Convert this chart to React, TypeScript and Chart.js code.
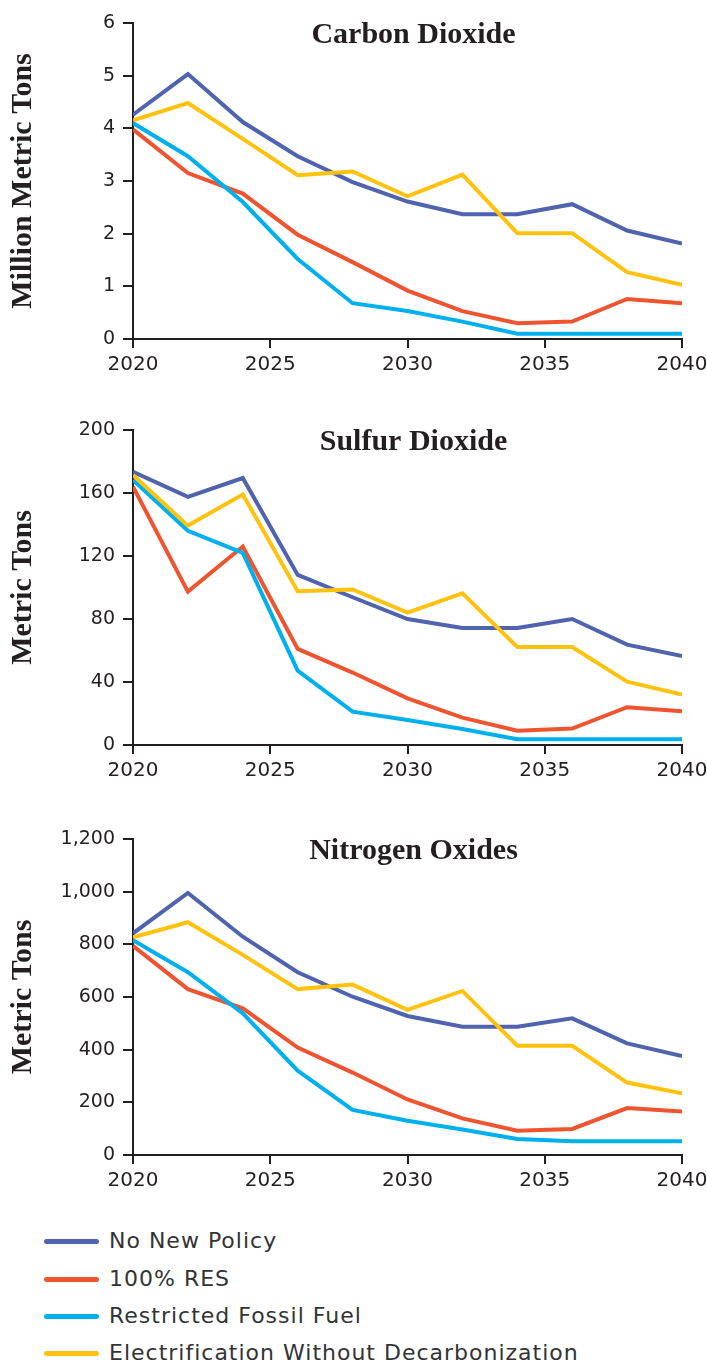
import React, { useEffect, useRef } from "react";
import { Chart, registerables } from "chart.js";

Chart.register(...registerables);

const years = [2020, 2022, 2024, 2026, 2028, 2030, 2032, 2034, 2036, 2038, 2040];
const seriesNames = ["No New Policy", "100% RES", "Restricted Fossil Fuel", "Electrification Without Decarbonization"];
const seriesColors = ["#4f63ae", "#ef5430", "#00b0ec", "#ffc20e"];

const co2NoNewPolicy = [4.26, 5.03, 4.12, 3.47, 2.98, 2.61, 2.37, 2.37, 2.56, 2.06, 1.81];
const co2Res100 = [3.98, 3.15, 2.76, 1.98, 1.46, 0.92, 0.53, 0.3, 0.33, 0.76, 0.68];
const co2Restricted = [4.1, 3.47, 2.6, 1.52, 0.68, 0.53, 0.33, 0.1, 0.1, 0.1, 0.1];
const co2Electrification = [4.15, 4.48, 3.8, 3.11, 3.18, 2.71, 3.12, 2.01, 2.01, 1.27, 1.03];

const so2NoNewPolicy = [173.5, 157.5, 169.5, 108, 93.8, 80, 74.3, 74.3, 80, 63.7, 56.5];
const so2Res100 = [164, 97.4, 126, 61, 46, 29.6, 17.4, 9.1, 10.4, 24, 21.4];
const so2Restricted = [168.3, 136, 122, 47.2, 21.2, 15.9, 10.2, 3.6, 3.6, 3.6, 3.6];
const so2Electrification = [171.4, 139.3, 159, 97.6, 98.8, 84, 96.3, 62.2, 62.2, 40.2, 32];

const noxNoNewPolicy = [842, 995, 829, 694, 601, 528, 487, 487, 519, 424, 376];
const noxRes100 = [794, 630, 557, 408, 313, 211, 139, 92, 99, 178, 165];
const noxRestricted = [816, 694, 538, 320, 171, 130, 97, 61, 52, 52, 52];
const noxElectrification = [827, 884, 760, 630, 647, 551, 623, 415, 415, 275, 234];

const xTicks = [2020, 2025, 2030, 2035, 2040];

type PanelDef = {
  title: string;
  yTitle: string;
  yMax: number;
  yStep: number;
  series: number[][];
  top: number;
  padTop: number;
  height: number;
};

const panels: PanelDef[] = [
  { title: "Carbon Dioxide", yTitle: "Million Metric Tons", yMax: 6, yStep: 1, series: [co2NoNewPolicy, co2Res100, co2Restricted, co2Electrification], top: 0, padTop: 23, height: 384 },
  { title: "Sulfur Dioxide", yTitle: "Metric Tons", yMax: 200, yStep: 40, series: [so2NoNewPolicy, so2Res100, so2Restricted, so2Electrification], top: 400, padTop: 30, height: 390 },
  { title: "Nitrogen Oxides", yTitle: "Metric Tons", yMax: 1200, yStep: 200, series: [noxNoNewPolicy, noxRes100, noxRestricted, noxElectrification], top: 800, padTop: 39, height: 400 },
];

const INK = "#231f20";
const SERIF = '"Liberation Serif", "Times New Roman", serif';
const SANS = '"DejaVu Sans", "Noto Sans", sans-serif';

function Panel({ def }: { def: PanelDef }) {
  const ref = useRef<HTMLCanvasElement | null>(null);
  useEffect(() => {
    if (!ref.current) return;
    const titlePlugin = {
      id: "panelTitle",
      afterDraw(chart: any) {
        const { ctx, chartArea } = chart;
        ctx.save();
        ctx.font = `bold 30px ${SERIF}`;
        ctx.fillStyle = INK;
        ctx.textAlign = "center";
        ctx.textBaseline = "alphabetic";
        ctx.fillText(def.title, (chartArea.left + chartArea.right) / 2 + 6, chartArea.top + 20);
        ctx.restore();
      },
    };
    const chart = new Chart(ref.current, {
      type: "line",
      data: {
        datasets: def.series.map((vals, i) => ({
          label: seriesNames[i],
          data: years.map((y, j) => ({ x: y, y: vals[j] })),
          borderColor: seriesColors[i],
          backgroundColor: seriesColors[i],
          borderWidth: 4,
          pointRadius: 0,
          tension: 0,
          fill: false,
          borderJoinStyle: "miter" as const,
          order: 3 - i,
        })),
      },
      options: {
        animation: false,
        responsive: false,
        maintainAspectRatio: false,
        events: [],
        layout: { padding: { top: def.padTop, left: 0, right: 25, bottom: 0 } },
        plugins: { legend: { display: false }, tooltip: { enabled: false }, title: { display: false } },
        scales: {
          x: {
            type: "linear",
            min: 2020,
            max: 2040,
            afterBuildTicks: (scale: any) => {
              scale.ticks = xTicks.map((v) => ({ value: v }));
            },
            ticks: {
              callback: (v: any) => String(v),
              color: INK,
              font: { family: SANS, size: 20 },
              padding: 5,
              maxRotation: 0,
              autoSkip: false,
            },
            grid: { drawOnChartArea: false, drawTicks: true, tickLength: 9, color: INK, lineWidth: 2 },
            border: { display: true, color: INK, width: 2 },
            afterFit: (scale: any) => {
              scale.height = 45;
              scale.paddingLeft = 0;
              scale.paddingRight = 0;
            },
          },
          y: {
            type: "linear",
            min: 0,
            max: def.yMax,
            ticks: {
              stepSize: def.yStep,
              callback: (v: any) => Number(v).toLocaleString("en-US"),
              color: INK,
              font: { family: SANS, size: 19 },
              padding: 8,
            },
            grid: { drawOnChartArea: false, drawTicks: true, tickLength: 10, color: INK, lineWidth: 2 },
            border: { display: true, color: INK, width: 2 },
            title: {
              display: true,
              text: def.yTitle,
              color: INK,
              font: { family: SERIF, size: 30, weight: "bold" },
              padding: { top: 5, bottom: 0 },
            },
            afterFit: (scale: any) => {
              scale.width = 133;
              scale.paddingTop = 0;
              scale.paddingBottom = 0;
            },
          },
        },
      },
      plugins: [titlePlugin],
    } as any);
    return () => chart.destroy();
  }, [def]);
  return (
    <canvas
      ref={ref}
      width={707}
      height={def.height}
      style={{ position: "absolute", left: 0, top: def.top, width: 707, height: def.height }}
    />
  );
}

const legendRows = [1241, 1279, 1316, 1353];

export default function App() {
  return (
    <div style={{ position: "absolute", left: 0, top: 0, width: 707, height: 1363, background: "#fff", overflow: "hidden" }}>
      {panels.map((p) => (
        <Panel key={p.title} def={p} />
      ))}
      {seriesNames.map((name, i) => (
        <div key={name}>
          <div
            style={{
              position: "absolute",
              left: 44,
              top: legendRows[i] - 2.5,
              width: 55,
              height: 5,
              borderRadius: 3,
              background: seriesColors[i],
            }}
          />
          <div
            style={{
              position: "absolute",
              left: 109,
              top: legendRows[i] - 15,
              height: 30,
              lineHeight: "30px",
              fontFamily: SANS,
              fontSize: 22,
              letterSpacing: "1px",
              color: "#333",
              whiteSpace: "nowrap",
            }}
          >
            {name}
          </div>
        </div>
      ))}
    </div>
  );
}
